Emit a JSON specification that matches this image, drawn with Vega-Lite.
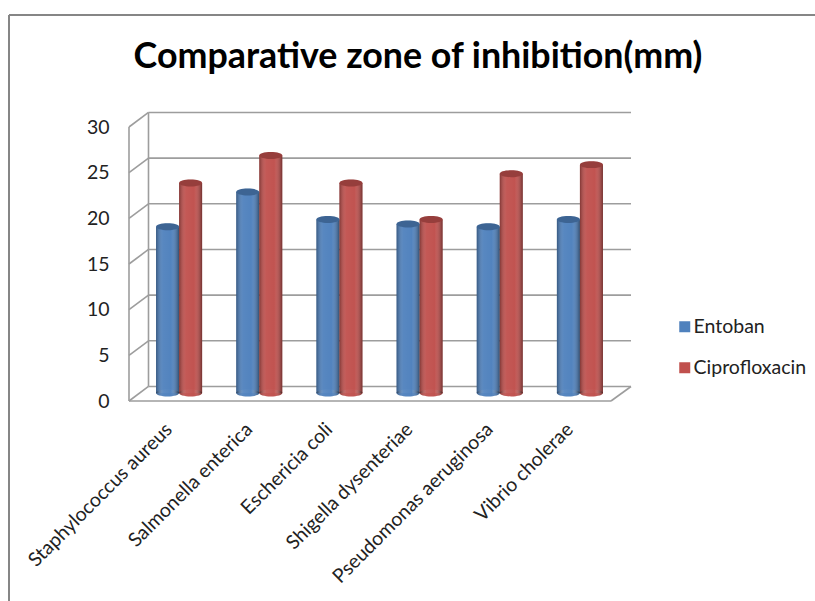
{
"$schema":"https://vega.github.io/schema/vega-lite/v6.json",
"width":806,"height":586,"autosize":"none","padding":{"left":9,"top":15,"right":0,"bottom":0},
"background":"white","view":{"stroke":null},
"title":{"text":"Comparative zone of inhibition(mm)","font":"Lato","fontWeight":"bold","fontSize":35.8,"color":"#000","anchor":"middle","offset":-62,"dx":6},
"datasets":{
"vals":[
{"organism":"Staphylococcus aureus","drug":"Entoban","zone":18.2},
{"organism":"Staphylococcus aureus","drug":"Ciprofloxacin","zone":23},
{"organism":"Salmonella enterica","drug":"Entoban","zone":22},
{"organism":"Salmonella enterica","drug":"Ciprofloxacin","zone":26},
{"organism":"Eschericia coli","drug":"Entoban","zone":19},
{"organism":"Eschericia coli","drug":"Ciprofloxacin","zone":23},
{"organism":"Shigella dysenteriae","drug":"Entoban","zone":18.5},
{"organism":"Shigella dysenteriae","drug":"Ciprofloxacin","zone":19},
{"organism":"Pseudomonas aeruginosa","drug":"Entoban","zone":18.2},
{"organism":"Pseudomonas aeruginosa","drug":"Ciprofloxacin","zone":24},
{"organism":"Vibrio cholerae","drug":"Entoban","zone":19},
{"organism":"Vibrio cholerae","drug":"Ciprofloxacin","zone":25}
],
"walls":[
{"gx":120,"gx2":602,"v":0,"v2":0},
{"gx":120,"gx2":120,"v":0,"v2":30},
{"gx":139.5,"gx2":139.5,"v":1.59,"v2":31.59},
{"gx":602,"gx2":622,"v":0,"v2":1.59},
{"gx":120,"gx2":139.5,"v":0,"v2":1.59},{"gx":139.5,"gx2":622,"v":1.59,"v2":1.59},
{"gx":120,"gx2":139.5,"v":5,"v2":6.59},{"gx":139.5,"gx2":622,"v":6.59,"v2":6.59},
{"gx":120,"gx2":139.5,"v":10,"v2":11.59},{"gx":139.5,"gx2":622,"v":11.59,"v2":11.59},
{"gx":120,"gx2":139.5,"v":15,"v2":16.59},{"gx":139.5,"gx2":622,"v":16.59,"v2":16.59},
{"gx":120,"gx2":139.5,"v":20,"v2":21.59},{"gx":139.5,"gx2":622,"v":21.59,"v2":21.59},
{"gx":120,"gx2":139.5,"v":25,"v2":26.59},{"gx":139.5,"gx2":622,"v":26.59,"v2":26.59},
{"gx":120,"gx2":139.5,"v":30,"v2":31.59},{"gx":139.5,"gx2":622,"v":31.59,"v2":31.59}
],
"frame":[
{"gx":0,"gx2":806,"v":42.26,"v2":42.26},
{"gx":0,"gx2":0,"v":42.26,"v2":-22}
]
},
"layer":[
{"encoding":{
  "x":{"field":"gx","type":"quantitative","axis":null,"scale":{"domain":[0,806],"range":[0,806],"nice":false,"zero":false}},"x2":{"field":"gx2"},
  "y":{"field":"v","type":"quantitative","scale":{"domain":[0,30],"range":[386,112],"nice":false,"zero":false},"axis":{"values":[0,5,10,15,20,25,30],"title":null,"grid":false,"domain":false,"ticks":false,"offset":-120,"labelPadding":20,"labelFont":"Lato","labelFontSize":19.5,"labelColor":"#222"}},"y2":{"field":"v2"}},
 "layer":[
  {"data":{"name":"frame"},"mark":{"type":"rule","color":"#868686","strokeWidth":2,"clip":false}},
  {"data":{"name":"walls"},"mark":{"type":"rule","color":"#9d9d9d","strokeWidth":1.6}}
 ]},
{"data":{"name":"vals"},
 "encoding":{
  "x":{"field":"organism","type":"nominal","sort":null,"scale":{"range":[130,611],"paddingInner":0,"paddingOuter":0},"axis":{"title":null,"domain":false,"ticks":false,"offset":-185,"labelAngle":-45,"labelAlign":"right","labelBaseline":"middle","labelPadding":10,"labelOffset":-10,"labelFont":"Lato","labelFontSize":19.5,"labelColor":"#222","labelLimit":0,"labelOverlap":false,"labelBound":false,"labelFlush":false}},
  "xOffset":{"field":"drug","type":"nominal","sort":["Entoban","Ciprofloxacin"],"scale":{"paddingInner":0,"paddingOuter":0.74}},
  "y":{"field":"zone","type":"quantitative","scale":{"domain":[0,30],"range":[378,104],"nice":false,"zero":false},"axis":null},
  "color":{"field":"drug","type":"nominal","sort":["Entoban","Ciprofloxacin"],"scale":{"domain":["Entoban","Ciprofloxacin"],"range":["#4F81BD","#C0504D"]},"legend":{"title":null,"orient":"none","legendX":666,"legendY":302,"padding":0,"symbolType":"square","symbolSize":121,"symbolStrokeWidth":0,"labelFont":"Lato","labelFontSize":19.5,"labelColor":"#222","labelOffset":-1,"rowPadding":20}}
 },
 "layer":[
  {"mark":{"type":"point","filled":true,"opacity":1,"size":529,"shape":"M-1,0A1,0.3,0,1,0,1,0A1,0.3,0,1,0,-1,0Z"},"encoding":{"y":{"datum":0,"type":"quantitative"}}},
  {"mark":{"type":"bar"},"encoding":{"y2":{"datum":0}}},
  {"mark":{"type":"point","filled":true,"opacity":1,"size":529,"shape":"M-1,0A1,0.3,0,1,0,1,0A1,0.3,0,1,0,-1,0Z"},"encoding":{"y":{"datum":0,"type":"quantitative"},"color":{"value":{"gradient":"linear","x1":0,"x2":1,"y1":0,"y2":0,"stops":[{"offset":0,"color":"rgba(0,0,0,0.32)"},{"offset":0.3,"color":"rgba(255,255,255,0.05)"},{"offset":0.65,"color":"rgba(255,255,255,0.02)"},{"offset":1,"color":"rgba(0,0,0,0.4)"}]}}}},
  {"mark":{"type":"bar"},"encoding":{"y2":{"datum":0},"color":{"value":{"gradient":"linear","x1":0,"x2":1,"y1":0,"y2":0,"stops":[{"offset":0,"color":"rgba(0,0,0,0.32)"},{"offset":0.3,"color":"rgba(255,255,255,0.05)"},{"offset":0.65,"color":"rgba(255,255,255,0.02)"},{"offset":1,"color":"rgba(0,0,0,0.4)"}]}}}},
  {"mark":{"type":"point","filled":true,"opacity":1,"size":529,"shape":"M-1,0A1,0.3,0,1,0,1,0A1,0.3,0,1,0,-1,0Z"}},
  {"mark":{"type":"point","filled":true,"opacity":0.22,"size":529,"shape":"M-1,0A1,0.3,0,1,0,1,0A1,0.3,0,1,0,-1,0Z"},"encoding":{"color":{"value":"#000"}}}
 ]}
],
"resolve":{"scale":{"x":"independent","y":"independent"},"axis":{"x":"independent","y":"independent"}}
}
